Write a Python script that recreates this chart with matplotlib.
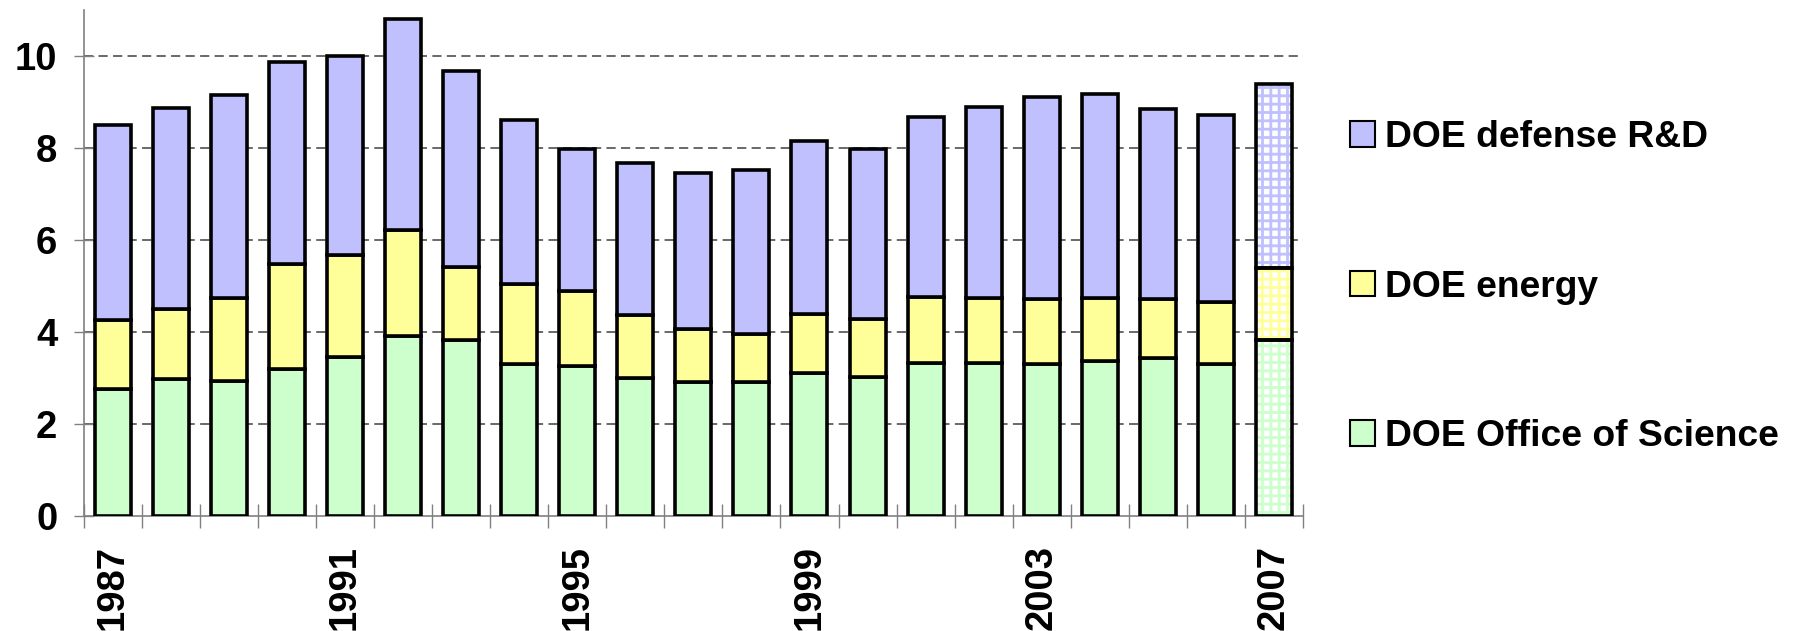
import numpy as np
import matplotlib
matplotlib.use('Agg')
import matplotlib.pyplot as plt
from matplotlib.patches import Patch

# DOE R&D budget, stacked by component
years = list(range(1987, 2008))
science = [2.76, 2.99, 2.93, 3.21, 3.47, 3.91, 3.83, 3.30, 3.27, 3.00, 2.91,
           2.92, 3.11, 3.03, 3.33, 3.32, 3.30, 3.38, 3.43, 3.31, 3.83]
energy_top = [4.27, 4.51, 4.75, 5.48, 5.67, 6.21, 5.41, 5.05, 4.89, 4.38, 4.08,
              3.96, 4.40, 4.29, 4.77, 4.74, 4.73, 4.75, 4.72, 4.65, 5.40]
total = [8.51, 8.86, 9.16, 9.88, 9.99, 10.80, 9.67, 8.61, 7.99, 7.67, 7.46,
         7.53, 8.16, 7.98, 8.67, 8.89, 9.12, 9.17, 8.84, 8.72, 9.39]
labelled_years = [1987, 1991, 1995, 1999, 2003, 2007]
series_names = ['DOE Office of Science', 'DOE energy', 'DOE defense R&D']
colors = ['#CCFFCC', '#FFFF99', '#C0C0FF']

science = np.array(science)
energy = np.array(energy_top) - science
defense = np.array(total) - np.array(energy_top)

plt.rcParams['font.family'] = ['Liberation Sans', 'DejaVu Sans']
plt.rcParams['font.weight'] = 'bold'
plt.rcParams['hatch.linewidth'] = 2.0

fig = plt.figure(figsize=(17.96, 6.31), dpi=100)
ax = fig.add_axes([83.7 / 1796, 114.7 / 631, (1303 - 83.7) / 1796, (631 - 114.7 - 10) / 631])

x = np.arange(len(years))
w = 0.62
segs = [(science, np.zeros(len(x))), (energy, science), (defense, science + energy)]

# solid bars up to 2006
for (vals, bot), c in zip(segs, colors):
    ax.bar(x[:-1], vals[:-1], w, bottom=bot[:-1], color=c, edgecolor='black',
           linewidth=2.6, zorder=3)

# 2007 drawn hatched (request)
for (vals, bot), c in zip(segs, colors):
    ax.bar(x[-1:], vals[-1:], w, bottom=bot[-1:], color='white', edgecolor=c,
           hatch='++', linewidth=0, zorder=3)
    ax.bar(x[-1:], vals[-1:], w, bottom=bot[-1:], fill=False, edgecolor='black',
           linewidth=2.6, zorder=4)

ax.set_xlim(-0.5, len(years) - 0.5)
ax.set_ylim(0, 11)

ax.set_yticks(np.arange(0, 11, 2))
ax.tick_params(axis='y', direction='inout', length=14, width=1, color='#808080',
               labelsize=27.5, pad=12)
for yv in range(2, 11, 2):
    ax.axhline(yv, color='#404040', linewidth=1.1, linestyle=(0, (6, 3.5)), zorder=1)

ax.set_xticks([years.index(y) for y in labelled_years])
ax.set_xticklabels([str(y) for y in labelled_years], rotation=90)
ax.tick_params(axis='x', which='major', length=0, labelsize=27.5, pad=21)
ax.set_xticks(np.arange(-0.5, len(years), 1), minor=True)
ax.tick_params(axis='x', which='minor', direction='inout', length=17, width=1,
               color='#808080')

for s in ['top', 'right']:
    ax.spines[s].set_visible(False)
for s in ['left', 'bottom']:
    ax.spines[s].set_color('#808080')
    ax.spines[s].set_linewidth(1.2)

handles = [Patch(facecolor=c, edgecolor='black', linewidth=1.5) for c in colors]
fig.legend(handles[::-1], series_names[::-1], loc='upper left',
           bbox_to_anchor=(1350 / 1796, (631 - 120) / 631), frameon=False,
           fontsize=26.8, handlelength=0.68, handleheight=0.68, handletextpad=0.25,
           labelspacing=3.08, borderpad=0, borderaxespad=0)

fig.savefig('out.png', dpi=100)
